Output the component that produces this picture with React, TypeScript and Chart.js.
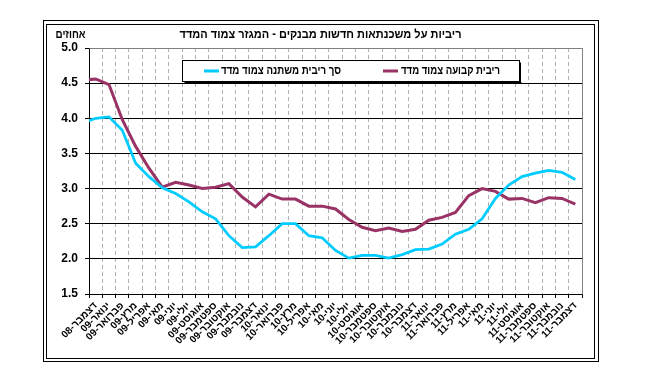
import React, { useEffect, useRef } from 'react';
import { Chart, registerables } from 'chart.js';

Chart.register(...registerables);

// First category (נובמבר-08) lies just outside the visible axis; the line is clipped at the axis.
const categories = [
  'נובמבר-08', 'דצמבר-08',
  'ינואר-09', 'פברואר-09', 'מרץ-09', 'אפריל-09', 'מאי-09', 'יוני-09',
  'יולי-09', 'אוגוסט-09', 'ספטמבר-09', 'אוקטובר-09', 'נובמבר-09', 'דצמבר-09',
  'ינואר-10', 'פברואר-10', 'מרץ-10', 'אפריל-10', 'מאי-10', 'יוני-10',
  'יולי-10', 'אוגוסט-10', 'ספטמבר-10', 'אוקטובר-10', 'נובמבר-10', 'דצמבר-10',
  'ינואר-11', 'פברואר-11', 'מרץ-11', 'אפריל-11', 'מאי-11', 'יוני-11',
  'יולי-11', 'אוגוסט-11', 'ספטמבר-11', 'אוקטובר-11', 'נובמבר-11', 'דצמבר-11',
];

const variableRate = [
  3.93, 4.0,
  4.02, 3.83, 3.36, 3.17, 3.01, 2.93,
  2.81, 2.67, 2.57, 2.33, 2.16, 2.17,
  2.33, 2.5, 2.5, 2.33, 2.3, 2.12,
  2.01, 2.05, 2.05, 2.01, 2.06, 2.13,
  2.14, 2.21, 2.35, 2.42, 2.57, 2.86,
  3.05, 3.17, 3.22, 3.26, 3.23, 3.13,
];

const fixedRate = [
  4.54, 4.56,
  4.48, 3.98, 3.6, 3.29, 3.02, 3.09,
  3.05, 3.0, 3.02, 3.07, 2.88, 2.74,
  2.92, 2.85, 2.85, 2.75, 2.75, 2.71,
  2.56, 2.45, 2.4, 2.44, 2.39, 2.42,
  2.55, 2.59, 2.66, 2.9, 3.0, 2.96,
  2.85, 2.86, 2.8, 2.87, 2.86, 2.78,
];

const seriesNames = ['סך ריבית משתנה צמוד מדד', 'ריבית קבועה צמוד מדד'];
const seriesColors = ['#00CCFF', '#993366'];
const chartTitle = 'ריביות על משכנתאות חדשות מבנקים - המגזר צמוד המדד';
const yUnit = 'אחוזים';
const yMin = 1.5;
const yMax = 5.0;
const yStep = 0.5;

const FONT = '"Liberation Sans", Arial, "DejaVu Sans", sans-serif';

function fitText(ctx: CanvasRenderingContext2D, text: string, x: number, y: number, targetW: number, align: CanvasTextAlign) {
  ctx.save();
  ctx.textAlign = align;
  ctx.textBaseline = 'middle';
  const w = ctx.measureText(text).width;
  const sx = w > 0 ? Math.min(1, targetW / w) : 1;
  ctx.translate(x, y);
  ctx.scale(sx, 1);
  ctx.fillText(text, 0, 0);
  ctx.restore();
}

const decorPlugin = {
  id: 'excelDecor',
  beforeDraw(chart: any) {
    const ctx = chart.ctx;
    ctx.save();
    ctx.fillStyle = '#ffffff';
    ctx.fillRect(0, 0, chart.width, chart.height);
    ctx.strokeStyle = '#000000';
    ctx.lineWidth = 1;
    ctx.strokeRect(43.5, 20.5, 555, 341);
    ctx.strokeRect(46.5, 24.5, 548, 334);
    ctx.restore();
  },
  beforeDatasetsDraw(chart: any) {
    const { ctx, chartArea: a } = chart;
    const al = (p: number) => Math.round(p - 0.5) + 0.5;
    ctx.save();
    ctx.strokeStyle = '#808080';
    ctx.lineWidth = 1;
    ctx.setLineDash([]);
    ctx.beginPath();
    ctx.moveTo(al(a.left), al(a.top));
    ctx.lineTo(al(a.right), al(a.top));
    ctx.lineTo(al(a.right), al(a.bottom));
    ctx.stroke();
    ctx.restore();
  },
  afterDraw(chart: any) {
    const ctx = chart.ctx;
    ctx.save();
    ctx.fillStyle = '#000000';
    ctx.font = `bold 12px ${FONT}`;
    fitText(ctx, chartTitle, 320.5, 35, 282, 'center');
    fitText(ctx, yUnit, 70.5, 35, 30, 'center');

    // legend box
    const bx = 182.5, by = 60.5, bw = 337, bh = 21;
    ctx.fillStyle = '#ffffff';
    ctx.fillRect(bx, by, bw, bh);
    ctx.strokeStyle = '#000000';
    ctx.lineWidth = 1;
    ctx.strokeRect(bx, by, bw, bh);
    ctx.fillStyle = '#000000';
    ctx.fillRect(bx + 2, by + bh + 0.5, bw, 1);
    ctx.fillRect(bx + bw + 0.5, by + 2, 1, bh);

    const items = [
      { mx: 204, tx: 221, tw: 120 },
      { mx: 383, tx: 401, tw: 99 },
    ];
    const ly = 71;
    items.forEach((it, i) => {
      ctx.strokeStyle = seriesColors[i];
      ctx.lineWidth = 3;
      ctx.beginPath();
      ctx.moveTo(it.mx, ly);
      ctx.lineTo(it.mx + 15, ly);
      ctx.stroke();
      ctx.fillStyle = '#000000';
      fitText(ctx, seriesNames[i], it.tx, ly, it.tw, 'left');
    });
    ctx.restore();
  },
};

export default function App() {
  const ref = useRef<HTMLCanvasElement | null>(null);

  useEffect(() => {
    if (!ref.current) return;
    const chart = new Chart(ref.current, {
      type: 'line',
      data: {
        labels: categories,
        datasets: [
          {
            label: seriesNames[0],
            data: variableRate,
            borderColor: seriesColors[0],
            backgroundColor: seriesColors[0],
            borderWidth: 2.75,
            pointRadius: 0,
            tension: 0,
            fill: false,
            clip: 0,
          },
          {
            label: seriesNames[1],
            data: fixedRate,
            borderColor: seriesColors[1],
            backgroundColor: seriesColors[1],
            borderWidth: 3,
            pointRadius: 0,
            tension: 0,
            fill: false,
            clip: 0,
          },
        ],
      },
      options: {
        responsive: false,
        animation: false,
        events: [],
        devicePixelRatio: 1,
        layout: { padding: { left: 0, right: 70, top: 48, bottom: 0 } },
        plugins: {
          legend: { display: false },
          title: { display: false },
          tooltip: { enabled: false },
        },
        scales: {
          x: {
            type: 'category',
            min: categories[1],
            offset: true,
            grid: {
              offset: true,
              color: '#b0b0b0',
              lineWidth: 1,
              tickLength: 4,
              tickColor: '#000000',
              tickBorderDash: [],
            },
            border: { color: '#000000', width: 1, dash: [4, 3] },
            ticks: {
              autoSkip: false,
              minRotation: 45,
              maxRotation: 45,
              padding: 2,
              color: '#000000',
              font: { family: FONT, size: 10, weight: 'bold' },
            },
            afterFit: (s: any) => {
              s.height = 85;
            },
          },
          y: {
            min: yMin,
            max: yMax,
            ticks: {
              stepSize: yStep,
              padding: 7,
              color: '#000000',
              font: { family: FONT, size: 12, weight: 'bold' },
              callback: (v: any) => Number(v).toFixed(1),
            },
            grid: {
              color: (c: any) => (c.tick && c.tick.value === yMax ? '#808080' : '#000000'),
              lineWidth: 1,
              tickLength: 4,
              tickColor: '#000000',
            },
            border: { color: '#000000', width: 1 },
            afterFit: (s: any) => {
              s.width = 89;
            },
          },
        },
      } as any,
      plugins: [decorPlugin],
    });
    return () => chart.destroy();
  }, []);

  return (
    <div style={{ position: 'fixed', left: 0, top: 0, width: 652, height: 379, background: '#fff' }}>
      <canvas ref={ref} width={652} height={379} style={{ display: 'block', width: 652, height: 379 }} />
    </div>
  );
}
